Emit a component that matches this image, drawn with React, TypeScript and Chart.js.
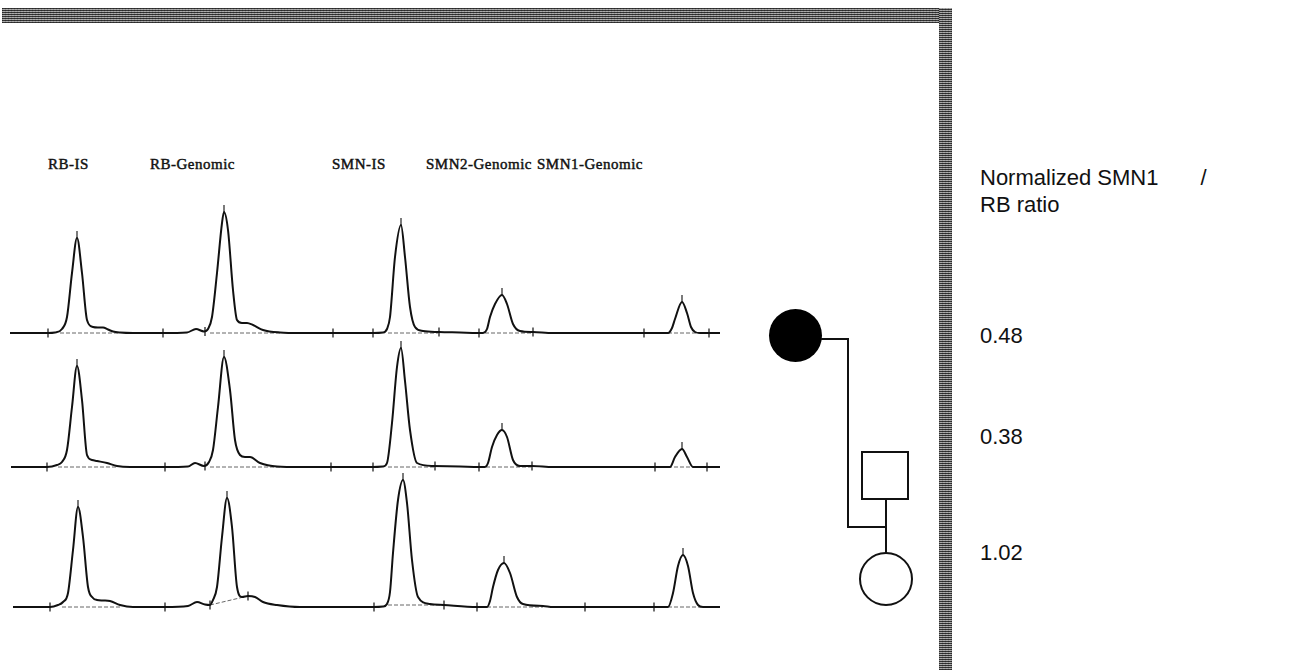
import React, { useEffect, useRef } from "react";
import { Chart, registerables } from "chart.js";

Chart.register(...registerables);

// ---------- DATA ----------
const peakLabels = ["RB-IS", "RB-Genomic", "SMN-IS", "SMN2-Genomic", "SMN1-Genomic"];
const ratioTitle = ["Normalized SMN1", "/", "RB ratio"];
const ratios = ["0.48", "0.38", "1.02"];

// Row 1 (affected mother)
const trace1X = [10, 48, 55, 62, 67, 72, 77, 82, 87, 93, 98, 103, 108, 113, 120, 133, 163, 187, 196, 204, 208, 212, 217, 222, 224, 228, 233, 237, 242, 247, 253, 263, 280, 300, 333, 373, 383, 387, 390, 395, 401, 405, 410, 415, 423, 439, 460, 477, 483, 487, 490, 495, 502, 507, 513, 520, 533, 553, 644, 668, 672, 675, 682, 687, 691, 695, 700, 720];
const trace1H = [0, 0, 0.5, 4, 16, 60, 95, 60, 13, 6, 5.5, 5.5, 3.5, 1.5, 0.5, 0, 0, 0.5, 4, 1.5, 4, 16, 60, 110, 121, 103, 43, 13, 10, 10, 8, 3, 0.5, 0, 0, 0, 0.5, 4, 16, 76, 108, 76, 26, 6, 2, 1, 0.5, 0, 0, 4, 16, 29, 38, 29, 9, 2, 1, 0, 0, 0, 5, 14, 31, 20, 6, 1, 0, 0];
const ticks1X = [48, 163, 205, 333, 373, 439, 479, 533, 644, 709];
const ticks1H = [0, 0, 1.5, 0, 0, 1, 0, 1, 0, 0];
const peaks1X = [77, 224, 401, 502, 682];
const peaks1H = [95, 121, 108, 38, 31];

// Row 2 (father)
const trace2X = [11, 47, 57, 62, 67, 72, 77, 82, 87, 92, 97, 107, 117, 130, 165, 188, 195, 204, 209, 213, 218, 224, 230, 235, 240, 245, 250, 260, 277, 300, 331, 373, 383, 387, 392, 397, 401, 405, 410, 417, 433, 460, 479, 485, 488, 492, 497, 502, 507, 513, 520, 532, 553, 655, 670, 675, 682, 687, 693, 707, 720];
const trace2H = [0, 0, 2, 5, 17, 60, 101, 67, 12, 7, 6, 4, 1, 0, 0, 0.5, 4, 1, 5, 17, 60, 110, 77, 27, 12, 10, 10, 4, 0.5, 0, 0, 0, 0.5, 4, 44, 100, 119, 86, 37, 4, 1, 0.5, 0, 0, 4, 20, 32, 37, 30, 7, 1, 1, 0, 0, 0, 10, 18, 10, 0, 0, 0];
const ticks2X = [47, 165, 205, 331, 373, 435, 479, 532, 655, 707];
const ticks2H = [0, 0, 1, 0, 0, 1, 0, 1, 0, 0];
const peaks2X = [77, 224, 401, 502, 682];
const peaks2H = [101, 110, 119, 37, 18];

// Row 3 (daughter)
const trace3X = [13, 50, 58, 63, 68, 73, 78, 83, 88, 93, 97, 103, 110, 120, 133, 165, 188, 197, 205, 210, 213, 217, 222, 227, 232, 237, 242, 248, 255, 263, 277, 300, 374, 383, 387, 390, 393, 398, 403, 407, 412, 418, 430, 444, 477, 487, 490, 493, 498, 504, 510, 517, 523, 543, 553, 585, 654, 668, 673, 678, 683, 688, 693, 698, 703, 720];
const trace3H = [0, 0, 2, 5, 14, 57, 100, 70, 20, 9, 7, 6.5, 6, 2, 0, 0, 1, 5, 2.5, 2, 7, 20, 70, 109, 80, 20, 10, 11, 10, 5, 2, 0, 0, 0.5, 3, 15, 54, 107, 127, 104, 47, 10, 3, 2, 0, 0, 6, 20, 37, 44, 34, 10, 3, 1, 0, 0, 0, 0, 14, 41, 52, 41, 14, 2, 0, 0];
const ticks3X = [50, 165, 210, 248, 374, 444, 477, 585, 654];
const ticks3H = [0, 0, 2, 11, 0, 2, 0, 0, 0];
const peaks3X = [78, 227, 403, 504, 683];
const peaks3H = [100, 109, 127, 44, 52];

// baseline-fit segments drawn by the analysis software (x start, x end, h start, h end)
const fit1 = [[60, 118, 0, 0], [210, 282, 0, 0], [388, 440, 0, 0], [485, 533, 0, 0], [668, 712, 0, 0]];
const fit2 = [[58, 118, 0, 0], [210, 280, 0, 0], [388, 436, 0, 0], [486, 532, 0, 0], [668, 712, 0, 0]];
const fit3 = [[62, 120, 0, 0], [210, 248, 2, 11], [388, 444, 2, 2], [487, 543, 0, 0], [668, 706, 0, 0]];

const rows = [
  { x: trace1X, h: trace1H, tx: ticks1X, th: ticks1H, px: peaks1X, ph: peaks1H, fit: fit1, baseline: 333 },
  { x: trace2X, h: trace2H, tx: ticks2X, th: ticks2H, px: peaks2X, ph: peaks2H, fit: fit2, baseline: 467 },
  { x: trace3X, h: trace3H, tx: ticks3X, th: ticks3H, px: peaks3X, ph: peaks3H, fit: fit3, baseline: 607 },
];

// ---------- LAYOUT ----------
const CANVAS_W = 730;
const Y_MAX = 145;
const Y_MIN = -15;
const CANVAS_H = Y_MAX - Y_MIN;

type Row = (typeof rows)[number];

function TraceRow({ row }: { row: Row }) {
  const ref = useRef<HTMLCanvasElement>(null);
  useEffect(() => {
    const fitData: any[] = [];
    row.fit.forEach((s) => {
      fitData.push({ x: s[0], y: s[2] }, { x: s[1], y: s[3] }, { x: s[1] + 0.5, y: null });
    });
    const chart = new Chart(ref.current as HTMLCanvasElement, {
      type: "line",
      data: {
        datasets: [
          {
            data: row.x.map((x, i) => ({ x, y: row.h[i] })),
            borderColor: "#111",
            borderWidth: 2,
            pointRadius: 0,
            cubicInterpolationMode: "monotone",
            fill: false,
          } as any,
          {
            data: fitData,
            borderColor: "#666",
            borderWidth: 1,
            borderDash: [4, 2],
            pointRadius: 0,
            spanGaps: false,
            fill: false,
          } as any,
          {
            type: "scatter",
            data: row.tx.map((x, i) => ({ x, y: row.th[i] })),
            showLine: false,
            pointStyle: "line",
            rotation: 90,
            pointRadius: 4.5,
            borderColor: "#222",
            borderWidth: 1.3,
          } as any,
          {
            type: "scatter",
            data: row.px.map((x, i) => ({ x, y: row.ph[i] + 3 })),
            showLine: false,
            pointStyle: "line",
            rotation: 90,
            pointRadius: 4,
            borderColor: "#222",
            borderWidth: 1.2,
          } as any,
        ],
      },
      options: {
        responsive: false,
        maintainAspectRatio: false,
        animation: false,
        events: [],
        layout: { padding: 0, autoPadding: false },
        plugins: { legend: { display: false }, tooltip: { enabled: false } },
        scales: {
          x: { type: "linear", min: 0, max: CANVAS_W, display: false },
          y: { type: "linear", min: Y_MIN, max: Y_MAX, display: false },
        },
      } as any,
    });
    return () => chart.destroy();
  }, [row]);
  return (
    <canvas
      ref={ref}
      width={CANVAS_W}
      height={CANVAS_H}
      style={{ position: "absolute", left: 0, top: row.baseline - Y_MAX, width: CANVAS_W, height: CANVAS_H }}
    />
  );
}

const bandStyle: React.CSSProperties = {
  position: "absolute",
  backgroundColor: "#777",
  backgroundImage:
    "repeating-linear-gradient(0deg, rgba(30,30,30,0.8) 0px, rgba(30,30,30,0.8) 1px, rgba(190,190,190,0.6) 1px, rgba(190,190,190,0.6) 2px), repeating-linear-gradient(90deg, rgba(0,0,0,0.25) 0px, rgba(0,0,0,0.25) 1px, rgba(255,255,255,0.2) 1px, rgba(255,255,255,0.2) 3px)",
};

const labelLefts = [48, 150, 332, 426, 537];

const line = (left: number, top: number, w: number, h: number): React.CSSProperties => ({
  position: "absolute",
  left,
  top,
  width: w,
  height: h,
  background: "#111",
});

export default function App() {
  const sans = "'Liberation Sans', Arial, Helvetica, sans-serif";
  return (
    <div
      style={{
        position: "absolute",
        left: 0,
        top: 0,
        width: 1294,
        height: 670,
        background: "#fff",
        overflow: "hidden",
      }}
    >
      {/* scanned frame bands */}
      <div style={{ ...bandStyle, left: 2, top: 8, width: 950, height: 15 }} />
      <div style={{ ...bandStyle, left: 939, top: 8, width: 13, height: 662 }} />

      {/* peak labels */}
      {peakLabels.map((t, i) => (
        <div
          key={t}
          style={{
            position: "absolute",
            left: labelLefts[i],
            top: 155,
            fontFamily: "'Liberation Serif', 'Times New Roman', serif",
            fontSize: 15,
            letterSpacing: 0.5,
            color: "#111",
            whiteSpace: "pre",
            lineHeight: "18px",
            WebkitTextStroke: "0.45px #111",
          }}
        >
          {t}
        </div>
      ))}

      {rows.map((r, i) => (
        <TraceRow key={i} row={r} />
      ))}

      {/* pedigree */}
      <div style={{ position: "absolute", left: 769, top: 309, width: 53, height: 53, borderRadius: "50%", background: "#000" }} />
      <div style={line(821, 338, 28, 2)} />
      <div style={line(847, 338, 2, 190)} />
      <div style={line(847, 526, 40, 2)} />
      <div
        style={{
          position: "absolute",
          left: 861,
          top: 451,
          width: 48,
          height: 49,
          border: "2px solid #111",
          boxSizing: "border-box",
        }}
      />
      <div style={line(885, 499, 2, 54)} />
      <div
        style={{
          position: "absolute",
          left: 859,
          top: 552,
          width: 54,
          height: 54,
          borderRadius: "50%",
          border: "2px solid #111",
          boxSizing: "border-box",
          background: "#fff",
        }}
      />

      {/* ratio texts */}
      <div
        style={{
          position: "absolute",
          left: 980,
          top: 164,
          fontFamily: sans,
          fontSize: 22,
          lineHeight: "27px",
          color: "#111",
          whiteSpace: "pre",
        }}
      >
        {ratioTitle[0]}
        <span style={{ paddingLeft: 42 }}>{ratioTitle[1]}</span>
        {"\n"}
        {ratioTitle[2]}
      </div>
      {ratios.map((t, i) => (
        <div
          key={t}
          style={{
            position: "absolute",
            left: 980,
            top: [322, 423, 539][i],
            fontFamily: sans,
            fontSize: 22,
            lineHeight: "27px",
            color: "#111",
          }}
        >
          {t}
        </div>
      ))}
    </div>
  );
}
